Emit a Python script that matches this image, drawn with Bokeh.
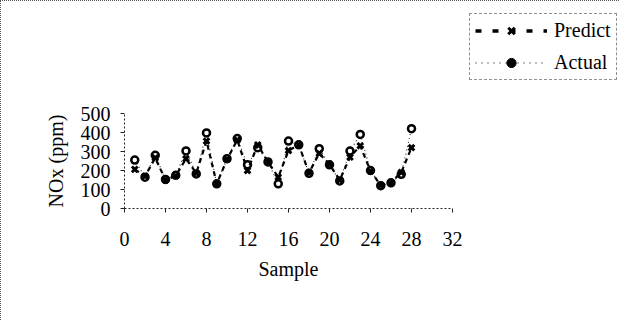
from bokeh.plotting import figure
from bokeh.layouts import row
from bokeh.models import FixedTicker, Range1d
from bokeh.embed import file_html
from bokeh.resources import INLINE

samples = [1, 2, 3, 4, 5, 6, 7, 8, 9, 10, 11, 12, 13, 14,
           15, 16, 17, 18, 19, 20, 21, 22, 23, 24, 25, 26, 27, 28]
actual = [255, 165, 280, 153, 175, 303, 182, 398, 130, 262, 368, 230, 320, 245,
          130, 355, 335, 185, 315, 230, 145, 302, 390, 200, 120, 135, 180, 420]
predict = [206, 170, 266, 150, 172, 262, 186, 355, 130, 258, 360, 200, 335, 245,
           165, 305, 335, 188, 290, 232, 150, 270, 330, 197, 122, 136, 190, 320]
x_ticks = [0, 4, 8, 12, 16, 20, 24, 28, 32]
y_ticks = [0, 100, 200, 300, 400, 500]

FONT = "Liberation Serif"
W, H = 468, 319
LW = 150
FL, FT, FW, FH = 123, 112, 328, 95

p = figure(width=W, height=H, output_backend="svg", toolbar_location=None,
           x_range=Range1d(0, 32), y_range=Range1d(0, 500),
           min_border_left=FL, min_border_top=FT,
           min_border_right=W - FL - FW, min_border_bottom=H - FT - FH)
p.outline_line_color = None
p.xgrid.visible = False
p.ygrid.visible = False
p.background_fill_color = "white"
p.border_fill_color = "white"

for ax in (p.xaxis[0], p.yaxis[0]):
    ax.axis_line_dash = "2 2"
    ax.axis_line_color = "#222222"
    ax.axis_line_width = 1
    ax.major_tick_line_color = "#222222"
    ax.major_tick_in = 0
    ax.major_tick_out = 4
    ax.minor_tick_line_color = None
    ax.major_label_text_font = FONT
    ax.major_label_text_font_size = "20px"
    ax.major_label_text_color = "black"
    ax.axis_label_text_font = FONT
    ax.axis_label_text_font_size = "20px"
    ax.axis_label_text_font_style = "normal"
    ax.axis_label_text_color = "black"

p.xaxis[0].ticker = FixedTicker(ticks=x_ticks)
p.yaxis[0].ticker = FixedTicker(ticks=y_ticks)
p.xaxis[0].axis_label = "Sample"
p.yaxis[0].axis_label = "NOx (ppm)"
p.xaxis[0].major_label_standoff = 19
p.xaxis[0].axis_label_standoff = 9
p.yaxis[0].major_label_standoff = 10
p.yaxis[0].axis_label_standoff = 11

# Actual: dotted line with ring markers
p.line(samples, actual, line_color="#333333", line_width=1.2, line_dash="1 3")
p.scatter(samples, actual, marker="circle", size=7, fill_color="white",
          line_color="black", line_width=2.5)
# Predict: dashed line with x markers
p.line(samples, predict, line_color="black", line_width=2.2, line_dash="5 4")
p.scatter(samples, predict, marker="x", size=8, line_color="black", line_width=3)

# legend panel (a figure of its own, no axes, frame not aligned with p)
q = figure(width=LW, height=H, output_backend="svg", toolbar_location=None,
           x_range=Range1d(0, 1), y_range=Range1d(0, 1),
           min_border_left=0, min_border_right=0, min_border_bottom=0,
           min_border_top=12, x_axis_type=None, y_axis_type=None)
q.frame_align = False
q.outline_line_color = None
q.xgrid.visible = False
q.ygrid.visible = False

# legend proxies: data lie outside the (hidden) ranges of q
q.line([5, 6], [5, 6], line_color="black", line_width=3.5, line_dash="6 11",
       legend_label="Predict")
q.scatter([5], [5], marker="x", size=9, line_color="black", line_width=3,
          legend_label="Predict")
q.line([5, 6], [5, 6], line_color="#555555", line_width=1.5, line_dash="1 5",
       legend_label="Actual")
q.scatter([5], [5], marker="circle", size=8, fill_color="black", line_color="black",
          legend_label="Actual")

lg = q.legend[0]
lg.location = "top_left"
lg.orientation = "vertical"
lg.glyph_width = 72
lg.glyph_height = 23
lg.label_standoff = 7
lg.padding = 5
lg.spacing = 9
lg.margin = 0
lg.label_text_font = FONT
lg.label_text_font_size = "20px"
lg.label_text_color = "black"
lg.border_line_color = "#222222"
lg.border_line_dash = "2 2"
lg.border_line_width = 1
lg.background_fill_alpha = 1.0

layout = row(p, q, spacing=0)
layout.styles = {"border-top": "1px dotted #555", "border-left": "1px dotted #555"}

open("out.html", "w").write(file_html(layout, INLINE))
